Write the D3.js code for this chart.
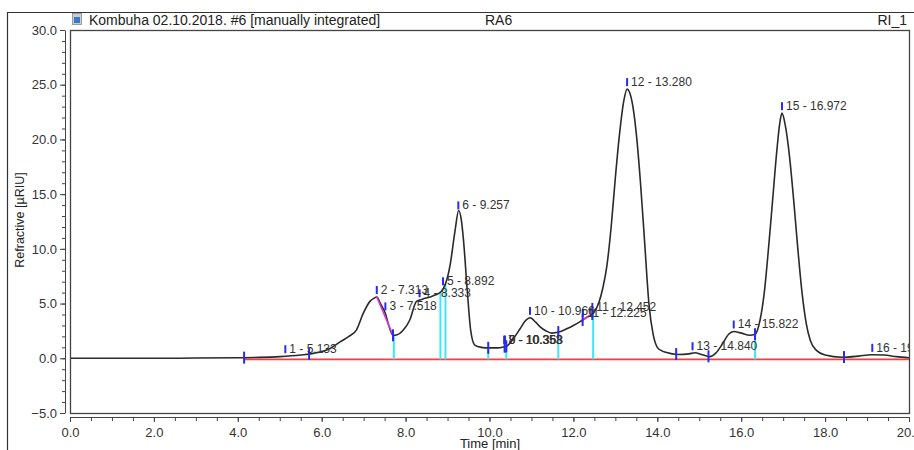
<!DOCTYPE html>
<html><head><meta charset="utf-8">
<script src="https://cdn.jsdelivr.net/npm/d3@7"></script>
<style>
html,body{margin:0;padding:0;background:#fff;overflow:hidden}
text{font-family:"Liberation Sans",Arial,sans-serif}
</style></head>
<body><svg id="c" width="914" height="450"></svg>
<script>
// ---- data ----
const titleLeft = "Kombuha 02.10.2018. #6 [manually integrated]";
const titleMid = "RA6";
const titleRight = "RI_1";
const xTickValues = [0,2,4,6,8,10,12,14,16,18,20];
const yTickValues = [-5,0,5,10,15,20,25,30];
const traceTime = [0,1,2,3,4,4.5,5,5.5,5.8,6.2,6.44,6.65,6.83,6.99,7.15,7.25,7.313,7.4,7.518,7.6,7.7,7.8,7.95,8.1,8.26,8.4,8.58,8.72,8.85,8.95,9.06,9.18,9.265,9.33,9.38,9.47,9.55,9.65,9.8,10.0,10.2,10.35,10.41,10.55,10.73,10.85,10.97,11.1,11.2,11.35,11.48,11.65,11.84,12.0,12.16,12.3,12.47,12.6,12.7,12.8,12.9,13.0,13.1,13.2,13.28,13.4,13.5,13.6,13.7,13.8,13.9,14.0,14.1,14.2,14.5,14.75,14.9,15.05,15.25,15.4,15.55,15.7,15.82,16.0,16.2,16.33,16.45,16.55,16.65,16.75,16.85,16.92,16.972,17.05,17.15,17.25,17.35,17.45,17.55,17.65,17.8,18.0,18.4,18.8,19.1,19.4,19.7,20];
const traceValue = [0,0,0,0.02,0.05,0.08,0.15,0.3,0.45,0.9,1.5,2.0,2.6,4.1,5.2,5.5,5.6,5.0,4.1,3.0,2.1,2.15,2.6,3.5,5.2,5.4,5.6,5.8,6.1,6.8,8.5,11.7,13.5,12.6,10.8,6.2,2.6,1.2,1.0,0.95,0.95,1.05,1.1,1.7,2.7,3.4,3.7,3.3,2.9,2.5,2.3,2.4,2.7,3.0,3.35,3.7,4.1,5.0,6.4,8.5,12.0,16.5,20.5,23.5,24.6,23.4,20.5,16.0,10.5,5.0,2.2,1.0,0.7,0.55,0.35,0.4,0.5,0.35,0.15,0.5,1.3,2.2,2.45,2.3,2.1,2.2,3.5,6.0,10.0,14.5,19.0,21.5,22.4,21.3,18.5,14.5,10.0,6.0,3.2,1.6,0.7,0.3,0.1,0.2,0.32,0.3,0.15,0.05];
const baselineStart = 4.15, baselineEnd = 20, baselineValue = -0.1;
const peakNumber = [1,2,3,4,5,6,7,8,9,10,11,11,12,13,14,15,16];
const peakTime = [5.133,7.313,7.518,8.333,8.892,9.257,10.353,10.358,10.368,10.966,12.225,12.452,13.280,14.840,15.822,16.972,19.125];
const boundaryTime = [4.15,5.70,7.70,9.97,10.36,10.40,11.64,12.22,12.45,14.45,15.22,16.33,18.45];
const dropLineTime = [7.72,8.83,8.95,9.97,10.40,11.64,12.47,16.33];
const skimStart = [7.313,12.22];
const skimEnd = [7.70,12.47];

// ---- drawing ----
const svg = d3.select("#c");
const x = d3.scaleLinear().domain([0,20]).range([70,909]);
const y = d3.scaleLinear().domain([-5,30]).range([413,30]);
const interp = t => {
  const i = d3.bisectLeft(traceTime, t);
  if (i <= 0) return traceValue[0];
  if (i >= traceTime.length) return traceValue[traceValue.length-1];
  const t0 = traceTime[i-1], t1 = traceTime[i];
  return traceValue[i-1] + (traceValue[i]-traceValue[i-1])*(t-t0)/(t1-t0);
};

// outer frame
svg.append("path").attr("d","M7.5,450 V12.5 H914").attr("fill","none").attr("stroke","#333").attr("stroke-width",1.2);
// title icon
svg.append("rect").attr("x",72.5).attr("y",13.5).attr("width",9).attr("height",11).attr("fill","#c8ccd4").attr("stroke","#888").attr("stroke-width",0.8);
svg.append("rect").attr("x",74).attr("y",17).attr("width",6).attr("height",6).attr("fill","#3a78c8");
svg.append("text").attr("x",89).attr("y",25).attr("font-size",14).attr("fill","#222").text(titleLeft);
svg.append("text").attr("x",485).attr("y",25).attr("font-size",14).attr("fill","#222").text(titleMid);
svg.append("text").attr("x",907).attr("y",25).attr("font-size",14).attr("fill","#222").attr("text-anchor","end").text(titleRight);

// plot frame
svg.append("rect").attr("x",70.5).attr("y",30.5).attr("width",839).attr("height",383).attr("fill","none").attr("stroke","#444").attr("stroke-width",1.3);

// y axis
const yMinor = d3.range(-5,31,1);
svg.append("g").attr("transform","translate(65,0)")
  .call(d3.axisLeft(y).tickValues(yMinor).tickSize(3).tickSizeOuter(0).tickFormat(""))
  .call(g=>g.selectAll("line,path").attr("stroke","#444"));
svg.append("g").attr("transform","translate(65,0)")
  .call(d3.axisLeft(y).tickValues(yTickValues).tickSize(5).tickSizeOuter(0).tickFormat(d3.format(".1f")))
  .call(g=>g.select(".domain").remove())
  .call(g=>g.selectAll("line").attr("stroke","#444"))
  .call(g=>g.selectAll("text").attr("font-size",13).attr("fill","#333").attr("font-family","Liberation Sans, Arial, sans-serif"));
// x axis
const xMinor = d3.range(0,20.01,0.5);
svg.append("g").attr("transform","translate(0,417)")
  .call(d3.axisBottom(x).tickValues(xMinor).tickSize(4).tickSizeOuter(0).tickFormat(""))
  .call(g=>g.selectAll("line,path").attr("stroke","#444"));
svg.append("g").attr("transform","translate(0,417)")
  .call(d3.axisBottom(x).tickValues(xTickValues).tickSize(5).tickSizeOuter(0).tickFormat(d3.format(".1f")))
  .call(g=>g.select(".domain").remove())
  .call(g=>g.selectAll("line").attr("stroke","#444"))
  .call(g=>g.selectAll("text").attr("font-size",13).attr("fill","#333").attr("dy","0.9em").attr("font-family","Liberation Sans, Arial, sans-serif"));
svg.append("text").attr("x",490).attr("y",448).attr("text-anchor","middle").attr("font-size",13).attr("fill","#222").text("Time [min]");
svg.append("text").attr("transform","translate(24,220) rotate(-90)").attr("text-anchor","middle").attr("font-size",12.5).attr("fill","#222").text("Refractive [µRIU]");

// clip
svg.append("clipPath").attr("id","clip").append("rect").attr("x",71).attr("y",31).attr("width",838).attr("height",382);
const plot = svg.append("g").attr("clip-path","url(#clip)");

// red baseline
plot.append("line").attr("x1",x(baselineStart)).attr("x2",x(baselineEnd)).attr("y1",y(baselineValue)).attr("y2",y(baselineValue))
  .attr("stroke","#ff3b3b").attr("stroke-width",1.6);
// cyan drop lines
plot.selectAll(".drop").data(dropLineTime).join("line")
  .attr("x1",d=>x(d)).attr("x2",d=>x(d)).attr("y1",y(baselineValue)).attr("y2",d=>y(interp(d)))
  .attr("stroke","#3ee8f0").attr("stroke-width",2);
// chromatogram
const pts = traceTime.map((t,i)=>[t,traceValue[i]]);
plot.append("path").datum(pts)
  .attr("d", d3.line().x(d=>x(d[0])).y(d=>y(d[1])).curve(d3.curveMonotoneX))
  .attr("fill","none").attr("stroke","#2a2a2a").attr("stroke-width",1.6);
// skim lines
plot.selectAll(".skim").data(skimStart).join("line")
  .attr("x1",(d)=>x(d)).attr("y1",d=>y(interp(d)))
  .attr("x2",(d,i)=>x(skimEnd[i])).attr("y2",(d,i)=>y(interp(skimEnd[i])))
  .attr("stroke","#e030d8").attr("stroke-width",1.6);
// boundary markers
plot.selectAll(".bnd").data(boundaryTime).join("line")
  .attr("x1",d=>x(d)).attr("x2",d=>x(d)).attr("y1",d=>y(interp(d))-6).attr("y2",d=>y(interp(d))+6)
  .attr("stroke","#2a2af0").attr("stroke-width",2);
// peak markers & labels
plot.selectAll(".pk").data(peakTime).join("line")
  .attr("x1",d=>x(d)).attr("x2",d=>x(d)).attr("y1",d=>y(interp(d))-11).attr("y2",d=>y(interp(d))-3)
  .attr("stroke","#2a2af0").attr("stroke-width",2);
plot.selectAll(".pl").data(peakTime).join("text")
  .attr("x",d=>x(d)+4).attr("y",d=>y(interp(d))-3)
  .attr("font-size",12).attr("fill","#333")
  .text((d,i)=>peakNumber[i]+" - "+d.toFixed(3));
</script></body></html>
